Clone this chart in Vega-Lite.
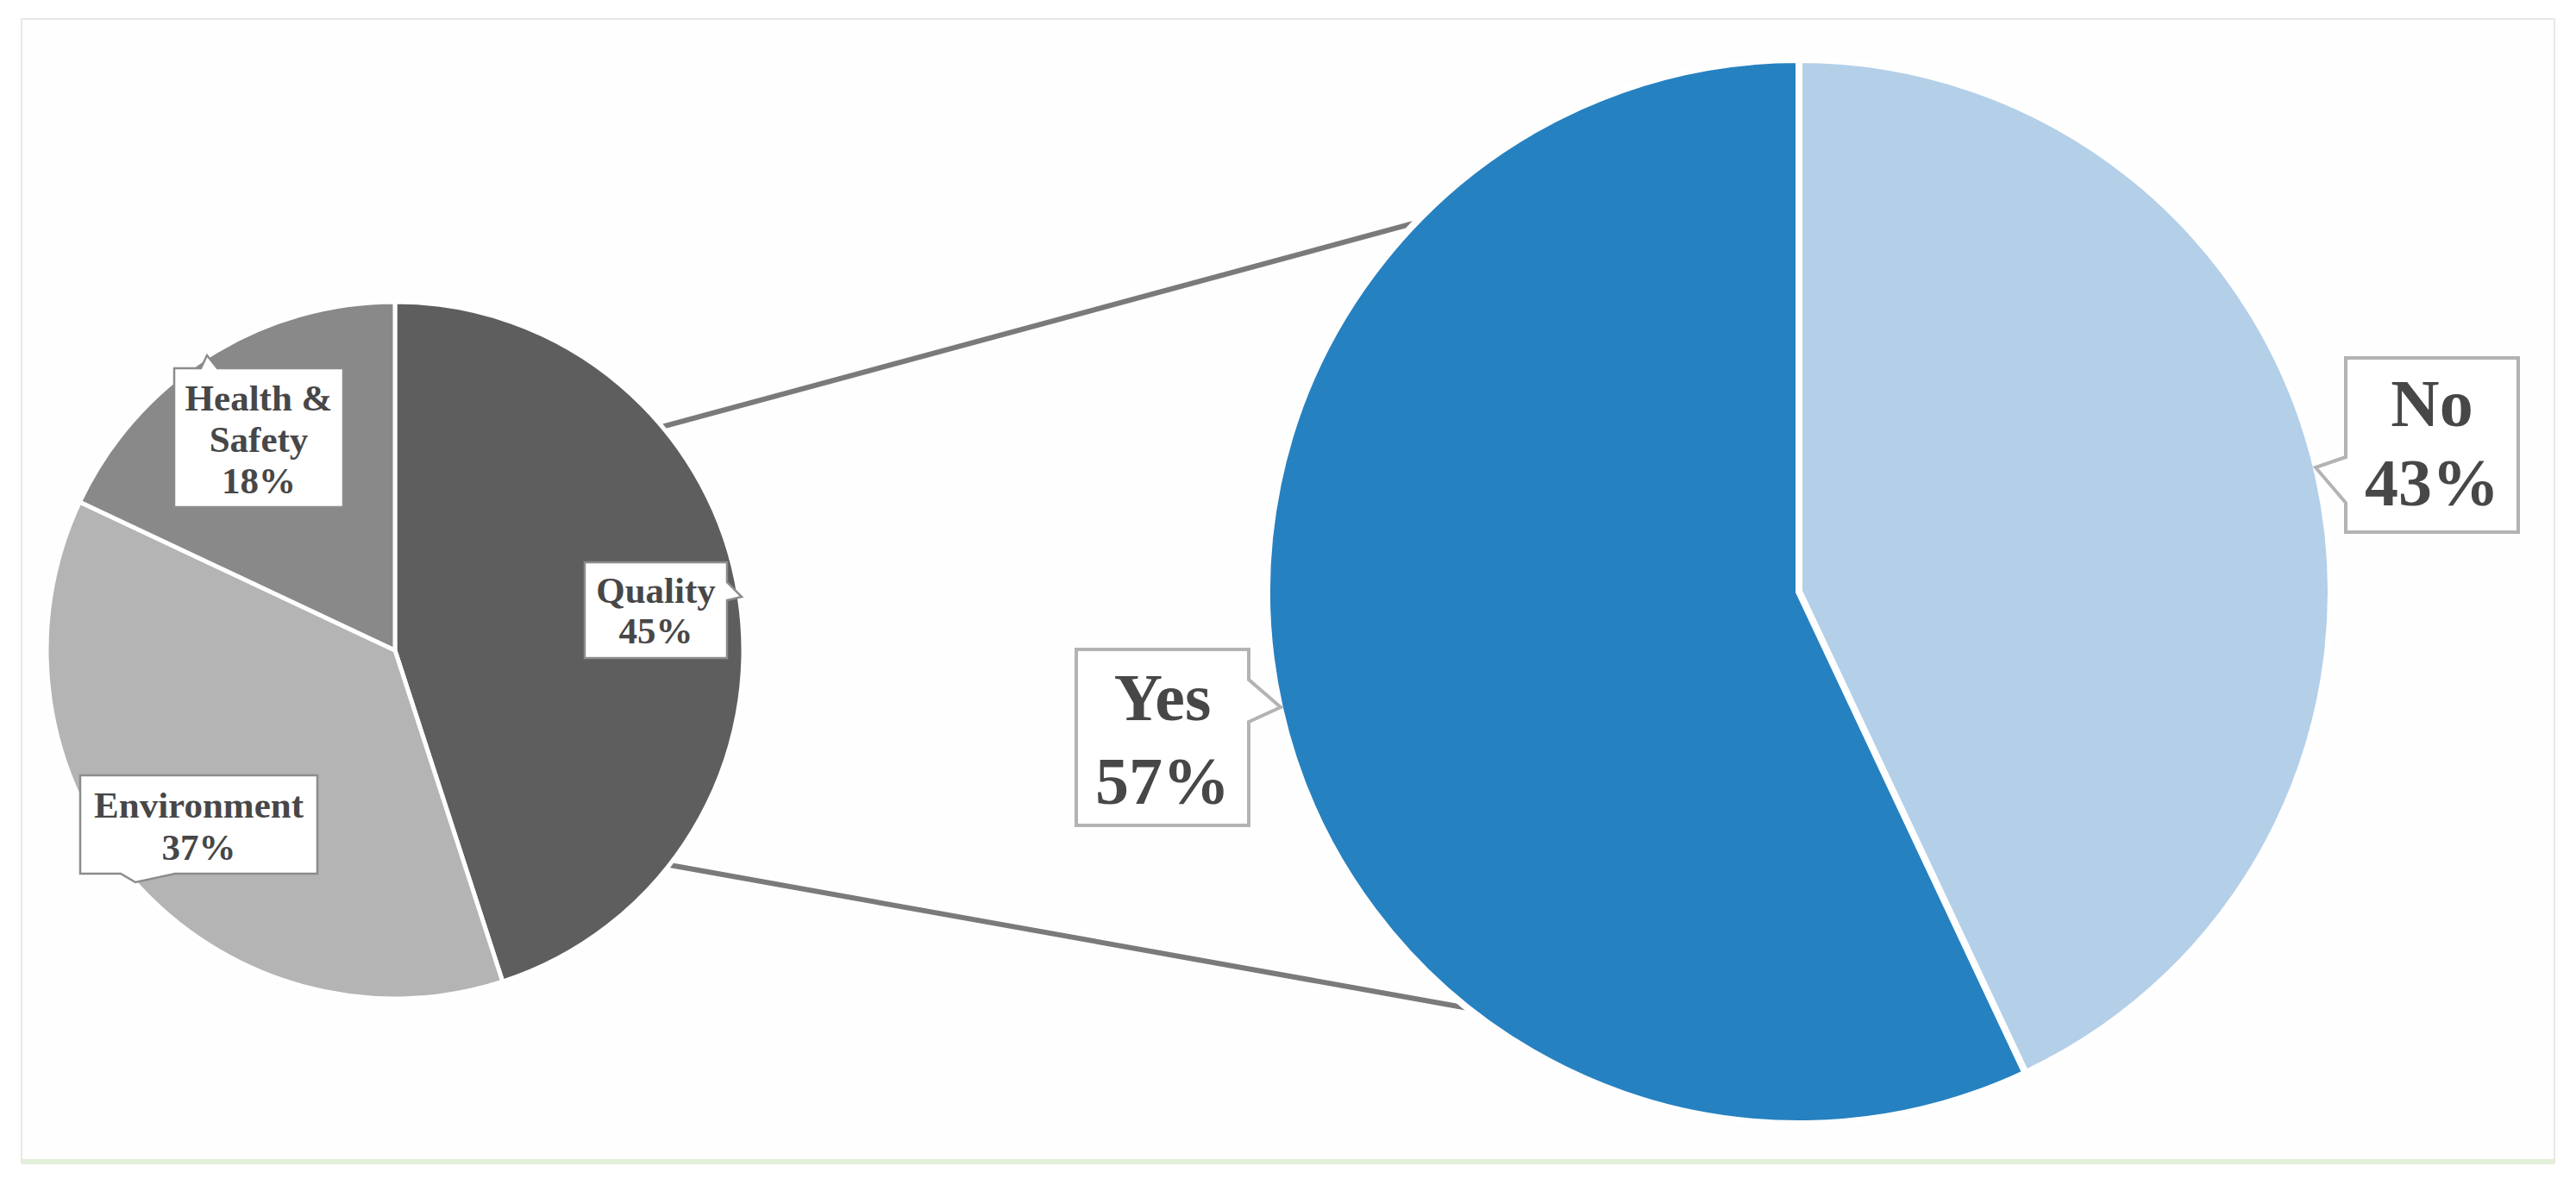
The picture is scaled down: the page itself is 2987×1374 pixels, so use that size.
{
  "$schema": "https://vega.github.io/schema/vega-lite/v6.json",
  "width": 2987,
  "height": 1374,
  "autosize": {"type": "fit", "contains": "padding"},
  "padding": 0,
  "background": "white",
  "config": {"view": {"stroke": null}},
  "datasets": {
    "topic": [
      {"idx": 1, "category": "Quality", "label": "Quality", "share": 45},
      {"idx": 2, "category": "Environment", "label": "Environment", "share": 37},
      {"idx": 3, "category": "Health & Safety", "label": "Health &\nSafety", "share": 18}
    ],
    "answer": [
      {"idx": 1, "category": "No", "label": "No", "share": 43},
      {"idx": 2, "category": "Yes", "label": "Yes", "share": 57}
    ],
    "one": [{"k": 1}]
  },
  "resolve": {"scale": {"theta": "independent", "color": "independent"}},
  "layer": [
    {
      "data": {"name": "one"},
      "mark": {"type": "rect", "fill": "#fefefe", "stroke": "#e8e8e8", "strokeWidth": 2},
      "encoding": {
        "x": {"datum": 25, "type": "quantitative", "scale": {"domain": [0, 2987], "nice": false, "zero": false}, "axis": null},
        "x2": {"datum": 2962},
        "y": {"datum": 22, "type": "quantitative", "scale": {"domain": [0, 1374], "nice": false, "zero": false, "reverse": true}, "axis": null},
        "y2": {"datum": 1347}
      }
    },
    {
      "data": {"name": "one"},
      "mark": {"type": "rule", "stroke": "#e2efd9", "strokeWidth": 6},
      "encoding": {
        "x": {"datum": 25, "type": "quantitative", "scale": {"domain": [0, 2987], "nice": false, "zero": false}, "axis": null},
        "x2": {"datum": 2962},
        "y": {"datum": 1347, "type": "quantitative", "scale": {"domain": [0, 1374], "nice": false, "zero": false, "reverse": true}, "axis": null}
      }
    },
    {
      "data": {"name": "one"},
      "mark": {"type": "rule", "stroke": "#7a7a7a", "strokeWidth": 6},
      "encoding": {
        "x": {"datum": 760, "type": "quantitative", "scale": {"domain": [0, 2987], "nice": false, "zero": false}, "axis": null},
        "x2": {"datum": 1672},
        "y": {"datum": 497, "type": "quantitative", "scale": {"domain": [0, 1374], "nice": false, "zero": false, "reverse": true}, "axis": null},
        "y2": {"datum": 250}
      }
    },
    {
      "data": {"name": "one"},
      "mark": {"type": "rule", "stroke": "#7a7a7a", "strokeWidth": 6},
      "encoding": {
        "x": {"datum": 771, "type": "quantitative", "scale": {"domain": [0, 2987], "nice": false, "zero": false}, "axis": null},
        "x2": {"datum": 1708},
        "y": {"datum": 1002, "type": "quantitative", "scale": {"domain": [0, 1374], "nice": false, "zero": false, "reverse": true}, "axis": null},
        "y2": {"datum": 1170}
      }
    },
    {
      "data": {"name": "topic"},
      "mark": {"type": "arc", "outerRadius": 404, "stroke": "white", "strokeWidth": 5},
      "encoding": {
        "x": {"datum": 458, "type": "quantitative", "scale": {"domain": [0, 2987], "nice": false, "zero": false}, "axis": null},
        "y": {"datum": 754, "type": "quantitative", "scale": {"domain": [0, 1374], "nice": false, "zero": false, "reverse": true}, "axis": null},
        "theta": {"field": "share", "type": "quantitative", "stack": true},
        "order": {"field": "idx", "type": "quantitative"},
        "color": {"field": "category", "type": "nominal", "legend": null,
          "scale": {"domain": ["Quality", "Environment", "Health & Safety"], "range": ["#5e5e5e", "#b4b4b4", "#898989"]}}
      }
    },
    {
      "data": {"name": "answer"},
      "mark": {"type": "arc", "outerRadius": 617, "stroke": "white", "strokeWidth": 8},
      "encoding": {
        "x": {"datum": 2086, "type": "quantitative", "scale": {"domain": [0, 2987], "nice": false, "zero": false}, "axis": null},
        "y": {"datum": 686, "type": "quantitative", "scale": {"domain": [0, 1374], "nice": false, "zero": false, "reverse": true}, "axis": null},
        "theta": {"field": "share", "type": "quantitative", "stack": true},
        "order": {"field": "idx", "type": "quantitative"},
        "color": {"field": "category", "type": "nominal", "legend": null,
          "scale": {"domain": ["No", "Yes"], "range": ["#b4cfe8", "#2681c1"]}}
      }
    },
    {
      "data": {"name": "topic"},
      "transform": [{"filter": "datum.category == 'Health & Safety'"}, {"calculate": "datum.label + '\\n' + datum.share + '%'", "as": "txt"}],
      "encoding": {
        "x": {"datum": 300, "type": "quantitative", "scale": {"domain": [0, 2987], "nice": false, "zero": false}, "axis": null},
        "y": {"datum": 507.5, "type": "quantitative", "scale": {"domain": [0, 1374], "nice": false, "zero": false, "reverse": true}, "axis": null}
      },
      "layer": [
        {"mark": {"type": "point", "size": 40000, "shape": "M-0.98,-0.805L-0.67,-0.805L-0.6,-0.955L-0.48,-0.805L0.98,-0.805L0.98,0.805L-0.98,0.805Z", "filled": true, "fill": "white", "stroke": "#8c8c8c", "strokeWidth": 2.5, "opacity": 1}},
        {"mark": {"type": "text", "font": "Liberation Serif", "fontWeight": "bold", "fontSize": 43, "lineHeight": 48, "lineBreak": "\n", "align": "center", "baseline": "middle", "color": "#474747", "dy": -45}, "encoding": {"text": {"field": "txt"}}}
      ]
    },
    {
      "data": {"name": "topic"},
      "transform": [{"filter": "datum.category == 'Quality'"}, {"calculate": "datum.label + '\\n' + datum.share + '%'", "as": "txt"}],
      "encoding": {
        "x": {"datum": 760.5, "type": "quantitative", "scale": {"domain": [0, 2987], "nice": false, "zero": false}, "axis": null},
        "y": {"datum": 707.5, "type": "quantitative", "scale": {"domain": [0, 1374], "nice": false, "zero": false, "reverse": true}, "axis": null}
      },
      "layer": [
        {"mark": {"type": "point", "size": 40000, "shape": "M-0.825,-0.555L0.825,-0.555L0.825,-0.325L0.995,-0.155L0.825,-0.115L0.825,0.555L-0.825,0.555Z", "filled": true, "fill": "white", "stroke": "#8c8c8c", "strokeWidth": 2.5, "opacity": 1}},
        {"mark": {"type": "text", "font": "Liberation Serif", "fontWeight": "bold", "fontSize": 43, "lineHeight": 47, "lineBreak": "\n", "align": "center", "baseline": "middle", "color": "#474747", "dy": -22}, "encoding": {"text": {"field": "txt"}}}
      ]
    },
    {
      "data": {"name": "topic"},
      "transform": [{"filter": "datum.category == 'Environment'"}, {"calculate": "datum.label + '\\n' + datum.share + '%'", "as": "txt"}],
      "encoding": {
        "x": {"datum": 230.5, "type": "quantitative", "scale": {"domain": [0, 2987], "nice": false, "zero": false}, "axis": null},
        "y": {"datum": 956, "type": "quantitative", "scale": {"domain": [0, 1374], "nice": false, "zero": false, "reverse": true}, "axis": null}
      },
      "layer": [
        {"mark": {"type": "point", "size": 40000, "shape": "M-1.375,-0.57L1.375,-0.57L1.375,0.57L-0.275,0.57L-0.735,0.67L-0.905,0.57L-1.375,0.57Z", "filled": true, "fill": "white", "stroke": "#8c8c8c", "strokeWidth": 2.5, "opacity": 1}},
        {"mark": {"type": "text", "font": "Liberation Serif", "fontWeight": "bold", "fontSize": 43, "lineHeight": 49, "lineBreak": "\n", "align": "center", "baseline": "middle", "color": "#474747", "dy": -21}, "encoding": {"text": {"field": "txt"}}}
      ]
    },
    {
      "data": {"name": "answer"},
      "transform": [{"filter": "datum.category == 'Yes'"}, {"calculate": "datum.label + '\\n' + datum.share + '%'", "as": "txt"}],
      "encoding": {
        "x": {"datum": 1348, "type": "quantitative", "scale": {"domain": [0, 2987], "nice": false, "zero": false}, "axis": null},
        "y": {"datum": 855, "type": "quantitative", "scale": {"domain": [0, 1374], "nice": false, "zero": false, "reverse": true}, "axis": null}
      },
      "layer": [
        {"mark": {"type": "point", "size": 40000, "shape": "M-1,-1.02L1,-1.02L1,-0.67L1.37,-0.35L1,-0.18L1,1.02L-1,1.02Z", "filled": true, "fill": "white", "stroke": "#b3b3b3", "strokeWidth": 4, "opacity": 1}},
        {"mark": {"type": "text", "font": "Liberation Serif", "fontWeight": "bold", "fontSize": 78, "lineHeight": 97, "lineBreak": "\n", "align": "center", "baseline": "middle", "color": "#474747", "dy": -43}, "encoding": {"text": {"field": "txt"}}}
      ]
    },
    {
      "data": {"name": "answer"},
      "transform": [{"filter": "datum.category == 'No'"}, {"calculate": "datum.label + '\\n' + datum.share + '%'", "as": "txt"}],
      "encoding": {
        "x": {"datum": 2820, "type": "quantitative", "scale": {"domain": [0, 2987], "nice": false, "zero": false}, "axis": null},
        "y": {"datum": 516, "type": "quantitative", "scale": {"domain": [0, 1374], "nice": false, "zero": false, "reverse": true}, "axis": null}
      },
      "layer": [
        {"mark": {"type": "point", "size": 40000, "shape": "M-1,-1.01L1,-1.01L1,1.01L-1,1.01L-1,0.67L-1.35,0.26L-1,0.14Z", "filled": true, "fill": "white", "stroke": "#b3b3b3", "strokeWidth": 4, "opacity": 1}},
        {"mark": {"type": "text", "font": "Liberation Serif", "fontWeight": "bold", "fontSize": 78, "lineHeight": 92, "lineBreak": "\n", "align": "center", "baseline": "middle", "color": "#474747", "dy": -45}, "encoding": {"text": {"field": "txt"}}}
      ]
    }
  ]
}
